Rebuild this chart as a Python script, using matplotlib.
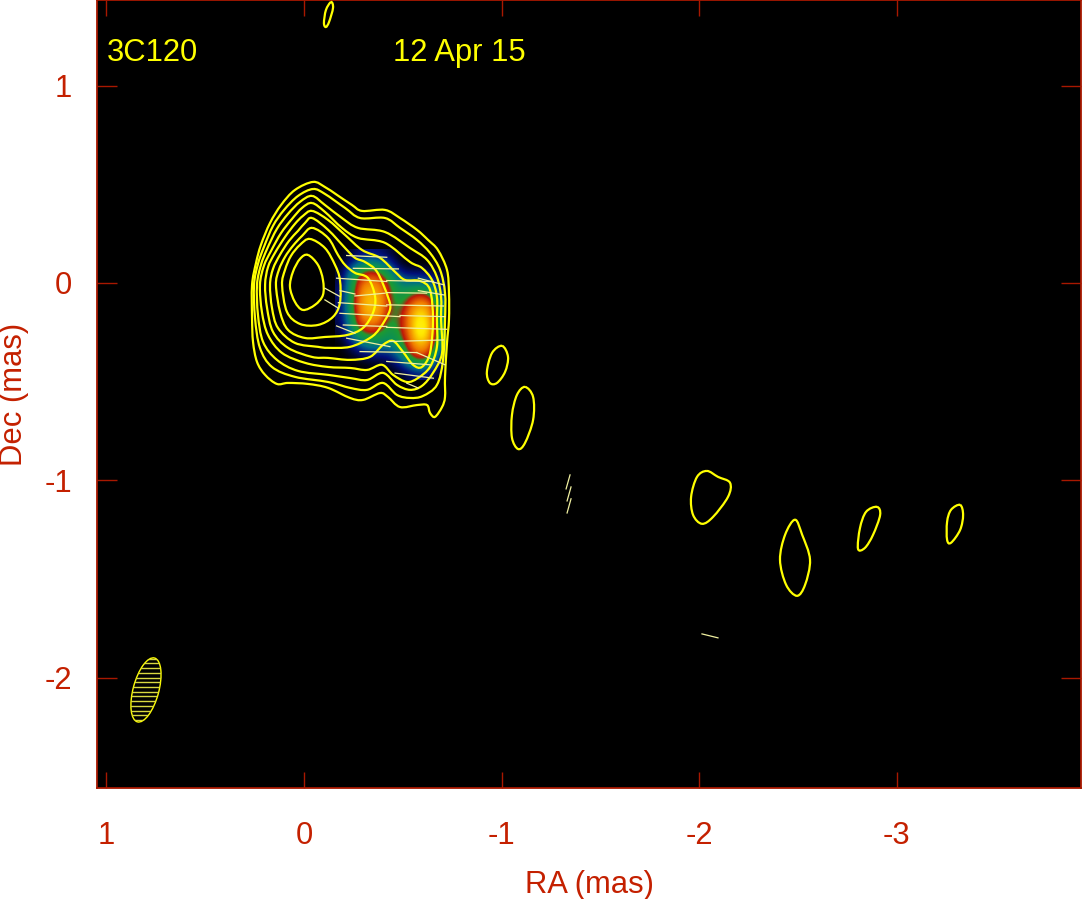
import matplotlib
matplotlib.use('Agg')
import matplotlib.pyplot as plt
from matplotlib.colors import LinearSegmentedColormap
from matplotlib.patches import Ellipse, PathPatch
from matplotlib.path import Path
import numpy as np

plt.rcParams['font.family'] = ['Liberation Sans', 'DejaVu Sans']
plt.rcParams['axes.unicode_minus'] = False

RED = '#c42000'
EDGE = '#a81800'

x_ticks = [1, 0, -1, -2, -3]
y_ticks = [1, 0, -1, -2]

# total intensity contours, all in mas, inner to outer
c1_ra = [-0.020, -0.071, -0.096, -0.096, -0.056, 0.005, 0.046, 0.071, 0.056, 0.020]
c1_dec = [0.142, 0.091, 0.015, -0.061, -0.111, -0.137, -0.096, -0.020, 0.056, 0.122]
c2_ra = [-0.030, -0.106, -0.157, -0.182, -0.182, -0.147, -0.071, 0.020, 0.086, 0.111, 0.096, 0.066, 0.020]
c2_dec = [0.223, 0.177, 0.091, 0.015, -0.101, -0.172, -0.213, -0.208, -0.147, -0.010, 0.066, 0.137, 0.193]
c3_ra = [-0.041, -0.122, -0.172, -0.208, -0.258, -0.324, -0.360, -0.349, -0.299, -0.218, -0.106, -0.005, 0.081,
         0.121, 0.142, 0.127, 0.096, 0.056, 0.010]
c3_dec = [0.279, 0.228, 0.142, 0.091, 0.051, 0.025, -0.071, -0.152, -0.228, -0.264, -0.274, -0.279, -0.238,
          -0.147, -0.010, 0.066, 0.132, 0.188, 0.238]
c4_ra = [-0.041, -0.122, -0.208, -0.258, -0.309, -0.370, -0.425, -0.435, -0.385, -0.334, -0.233, -0.122, -0.071,
         0.046, 0.132, 0.162, 0.172, 0.157, 0.122, 0.076, 0.030, -0.005]
c4_dec = [0.329, 0.269, 0.177, 0.127, 0.106, 0.056, -0.071, -0.137, -0.228, -0.279, -0.324, -0.329, -0.324,
          -0.304, -0.228, -0.127, -0.010, 0.071, 0.142, 0.213, 0.264, 0.304]
c5_ra = [-0.041, -0.122, -0.208, -0.294, -0.385, -0.461, -0.511, -0.587, -0.638, -0.653, -0.638, -0.597, -0.552,
         -0.501, -0.451, -0.400, -0.334, -0.233, -0.122, -0.040, 0.081, 0.157, 0.187, 0.197, 0.182, 0.147, 0.096,
         0.046, 0.005]
c5_dec = [0.365, 0.319, 0.243, 0.167, 0.127, 0.056, 0.015, 0.010, -0.035, -0.187, -0.355, -0.426, -0.415,
          -0.349, -0.294, -0.314, -0.375, -0.390, -0.380, -0.375, -0.329, -0.248, -0.127, -0.010, 0.081, 0.152, 0.233,
          0.299, 0.340]
c6_ra = [-0.041, -0.106, -0.192, -0.273, -0.410, -0.537, -0.597, -0.648, -0.673, -0.673, -0.673, -0.638, -0.577,
         -0.521, -0.451, -0.395, -0.319, -0.233, -0.122, -0.005, 0.111, 0.182, 0.213, 0.223, 0.203, 0.167, 0.116,
         0.061, 0.010]
c6_dec = [0.405, 0.360, 0.279, 0.228, 0.203, 0.106, 0.076, 0.015, -0.071, -0.187, -0.324, -0.426, -0.482,
          -0.502, -0.466, -0.415, -0.441, -0.431, -0.426, -0.405, -0.355, -0.264, -0.147, -0.010, 0.086, 0.162, 0.253,
          0.324, 0.380]
c7_ra = [-0.041, -0.106, -0.192, -0.273, -0.410, -0.537, -0.623, -0.673, -0.694, -0.694, -0.699, -0.653, -0.597,
         -0.537, -0.471, -0.400, -0.319, -0.233, -0.122, 0.030, 0.137, 0.207, 0.233, 0.238, 0.218, 0.187, 0.137,
         0.081, 0.020]
c7_dec = [0.441, 0.395, 0.329, 0.279, 0.258, 0.177, 0.117, 0.030, -0.071, -0.187, -0.355, -0.456, -0.522,
          -0.542, -0.517, -0.456, -0.492, -0.482, -0.466, -0.446, -0.390, -0.299, -0.162, -0.010, 0.091, 0.172, 0.274,
          0.350, 0.411]
c8_ra = [-0.046, -0.106, -0.208, -0.284, -0.410, -0.486, -0.572, -0.638, -0.689, -0.714, -0.714, -0.704, -0.673,
         -0.602, -0.537, -0.471, -0.400, -0.319, -0.233, -0.122, 0.046, 0.162, 0.223, 0.248, 0.253, 0.233, 0.203,
         0.157, 0.101, 0.030]
c8_dec = [0.476, 0.451, 0.380, 0.329, 0.329, 0.279, 0.218, 0.152, 0.066, -0.051, -0.187, -0.390, -0.517,
          -0.573, -0.583, -0.568, -0.507, -0.542, -0.532, -0.502, -0.476, -0.426, -0.329, -0.177, -0.010, 0.096, 0.182,
          0.289, 0.370, 0.441]
c9_ra = [-0.046, -0.106, -0.167, -0.243, -0.294, -0.410, -0.486, -0.572, -0.628, -0.678, -0.724, -0.734, -0.734,
         -0.724, -0.714, -0.714, -0.699, -0.663, -0.638, -0.623, -0.572, -0.486, -0.425, -0.385, -0.299, -0.233,
         -0.122, -0.020, 0.081, 0.137, 0.197, 0.238, 0.258, 0.263, 0.263, 0.243, 0.218, 0.172, 0.116, 0.046]
c9_dec = [0.512, 0.486, 0.446, 0.395, 0.365, 0.370, 0.329, 0.269, 0.218, 0.167, 0.066, -0.051, -0.187,
          -0.304, -0.477, -0.578, -0.629, -0.679, -0.659, -0.619, -0.619, -0.629, -0.578, -0.558, -0.593, -0.583,
          -0.532, -0.512, -0.507, -0.512, -0.466, -0.400, -0.299, -0.177, -0.010, 0.101, 0.193, 0.304, 0.395, 0.471]

# the small islands along the jet
isl_a_ra = [-1.003, -1.033, -1.018, -0.977, -0.941, -0.926, -0.952]
isl_a_dec = [-0.319, -0.375, -0.451, -0.507, -0.507, -0.451, -0.355]
isl_b_ra = [-1.119, -1.160, -1.160, -1.119, -1.084, -1.053, -1.053, -1.078]
isl_b_dec = [-0.527, -0.578, -0.694, -0.811, -0.842, -0.785, -0.669, -0.568]
isl_c_ra = [-2.040, -2.096, -2.157, -2.147, -2.071, -2.015, -1.970, -1.960, -1.990]
isl_c_dec = [-0.953, -0.983, -1.013, -1.084, -1.186, -1.221, -1.176, -1.084, -0.983]
isl_d_ra = [-2.486, -2.522, -2.562, -2.537, -2.496, -2.441, -2.410, -2.436]
isl_d_dec = [-1.200, -1.276, -1.403, -1.530, -1.586, -1.530, -1.403, -1.276]
isl_e_ra = [-2.901, -2.917, -2.881, -2.840, -2.805, -2.815, -2.846]
isl_e_dec = [-1.135, -1.176, -1.277, -1.343, -1.348, -1.242, -1.160]
isl_f_ra = [-3.322, -3.337, -3.322, -3.276, -3.256, -3.256, -3.276]
isl_f_dec = [-1.125, -1.176, -1.252, -1.317, -1.302, -1.211, -1.150]
isl_g_ra = [-0.137, -0.147, -0.127, -0.111, -0.101, -0.111]
isl_g_dec = [1.424, 1.394, 1.323, 1.297, 1.317, 1.383]

# polarization sticks
stick_ra0 = [-0.216, -0.250, -0.165, -0.419, -0.579, -0.182, -0.258, -0.419, -0.579, -0.106, -0.106, -0.174, -0.419,
             -0.182, -0.486, -0.199, -0.419, -0.165, -0.216, -0.435, -0.284, -0.571, -0.419, -0.461, -0.520,
             -1.347, -1.352, -1.352, -2.015]
stick_dec0 = [0.139, 0.074, 0.024, 0.012, 0.024, -0.039, -0.066, -0.049, -0.039, -0.027, -0.086, -0.100, -0.111,
              -0.154, -0.165, -0.213, -0.225, -0.218, -0.280, -0.297, -0.348, -0.353, -0.398, -0.457, -0.508,
              -0.973, -1.034, -1.094, -1.779]
stick_ra1 = [-0.419, -0.478, -0.419, -0.655, -0.709, -0.258, -0.410, -0.621, -0.709, -0.182, -0.174, -0.419, -0.706,
             -0.486, -0.714, -0.419, -0.722, -0.258, -0.435, -0.706, -0.571, -0.714, -0.638, -0.655, -0.579,
             -1.327, -1.332, -1.332, -2.096]
stick_dec1 = [0.130, 0.071, 0.007, 0.007, -0.010, -0.056, -0.052, -0.052, -0.061, -0.069, -0.128, -0.117, -0.117,
              -0.171, -0.171, -0.221, -0.235, -0.255, -0.323, -0.289, -0.353, -0.415, -0.415, -0.483, -0.533,
              -1.044, -1.105, -1.166, -1.799]

# polarized intensity, rows top to bottom, columns left to right on the sky picture
pol_flux = np.array([
    [0, .04, .10, .12, .10, .05, 0, 0, 0, 0, 0],
    [.01, .14, .28, .34, .30, .18, .03, 0, 0, 0, 0],
    [.04, .28, .50, .58, .52, .34, .16, .12, .12, .10, .03],
    [.07, .32, .62, .72, .66, .46, .30, .28, .28, .24, .10],
    [.09, .34, .68, .80, .72, .50, .36, .46, .54, .44, .16],
    [.09, .36, .70, .82, .74, .50, .42, .62, .74, .64, .24],
    [.08, .34, .66, .78, .70, .46, .47, .70, .90, .70, .28],
    [.06, .30, .58, .66, .60, .40, .50, .72, 1.0, .74, .30],
    [.03, .22, .40, .50, .44, .34, .46, .68, .96, .72, .28],
    [0, .10, .22, .30, .28, .28, .38, .62, .80, .64, .22],
    [0, .02, .08, .12, .13, .15, .28, .50, .64, .50, .12],
    [0, 0, 0, .02, .02, .05, .14, .28, .36, .28, .05],
    [0, 0, 0, 0, 0, 0, .02, .08, .12, .08, 0],
])
pol_extent = (-0.157, -0.714, -0.492, 0.167)


def smooth_closed(ra, dec):
    # closed catmull-rom through the read points, as bezier segments
    pts = np.column_stack([ra, dec])
    n = len(pts)
    verts = [pts[0]]
    codes = [Path.MOVETO]
    for i in range(n):
        p0, p1, p2, p3 = pts[i - 1], pts[i], pts[(i + 1) % n], pts[(i + 2) % n]
        verts += [p1 + (p2 - p0) / 6, p2 - (p3 - p1) / 6, p2]
        codes += [Path.CURVE4, Path.CURVE4, Path.CURVE4]
    return Path(verts, codes)


fig = plt.figure(figsize=(10.82, 8.99), dpi=100, facecolor='white')
ax = fig.add_axes([97 / 1082, 111 / 899, 984 / 1082, 788 / 899], facecolor='black')

cmap = LinearSegmentedColormap.from_list('pol', [
    (0.0, '#000000'), (0.12, '#00107a'), (0.24, '#006a8a'), (0.34, '#0a8f58'), (0.45, '#1e9a30'),
    (0.52, '#c01808'), (0.66, '#f07a00'), (0.86, '#ffe800'), (1.0, '#ffff30')])
ax.imshow(pol_flux, extent=pol_extent, origin='upper', aspect='auto', cmap=cmap, vmin=0, vmax=1,
          interpolation='bicubic', zorder=1)

contours = [(c1_ra, c1_dec), (c2_ra, c2_dec), (c3_ra, c3_dec), (c4_ra, c4_dec), (c5_ra, c5_dec),
            (c6_ra, c6_dec), (c7_ra, c7_dec), (c8_ra, c8_dec), (c9_ra, c9_dec),
            (isl_a_ra, isl_a_dec), (isl_b_ra, isl_b_dec), (isl_c_ra, isl_c_dec), (isl_d_ra, isl_d_dec),
            (isl_e_ra, isl_e_dec), (isl_f_ra, isl_f_dec), (isl_g_ra, isl_g_dec)]
for ra, dec in contours:
    ax.add_patch(PathPatch(smooth_closed(ra, dec), fill=False, edgecolor='#ffff00', lw=1.6, zorder=3))

for x0, y0, x1, y1 in zip(stick_ra0, stick_dec0, stick_ra1, stick_dec1):
    ax.plot([x0, x1], [y0, y1], color='#f0f0a0', lw=0.9, zorder=4)

# beam, hatched
beam = Ellipse((0.80, -2.063), 0.13, 0.335, angle=15, fill=False, edgecolor='#ffff00', lw=1.0, zorder=3)
ax.add_patch(beam)
for y in np.arange(-2.24, -1.88, 0.024):
    line, = ax.plot([0.6, 1.0], [y, y], color='#d8d840', lw=1.0, zorder=3)
    line.set_clip_path(beam)

ax.set_xlim(1.048, -3.934)
ax.set_ylim(-2.56, 1.434)
ax.set_xticks(x_ticks)
ax.set_yticks(y_ticks)
ax.set_xticklabels([str(v) for v in x_ticks])
ax.set_yticklabels([str(v) for v in y_ticks])
ax.tick_params(axis='x', direction='in', length=11.5, width=1.0, color=EDGE, labelcolor=RED, labelsize=22.3,
               top=True, pad=24)
ax.tick_params(axis='y', direction='in', length=14.5, width=1.0, color=EDGE, labelcolor=RED, labelsize=22.3,
               right=True, pad=18)
for spine in ax.spines.values():
    spine.set_color(EDGE)
    spine.set_linewidth(1.3)

ax.set_xlabel('RA (mas)', fontsize=22.3, color=RED, labelpad=13.5)
ax.set_ylabel('Dec (mas)', fontsize=22.3, color=RED, labelpad=11)

ax.text(0.0095, 0.9226, '3C120', transform=ax.transAxes, fontsize=22.3, color='#ffff00', va='baseline')
ax.text(0.301, 0.9226, '12 Apr 15', transform=ax.transAxes, fontsize=22.3, color='#ffff00', va='baseline')

fig.savefig('out.png', dpi=100, facecolor='white')
